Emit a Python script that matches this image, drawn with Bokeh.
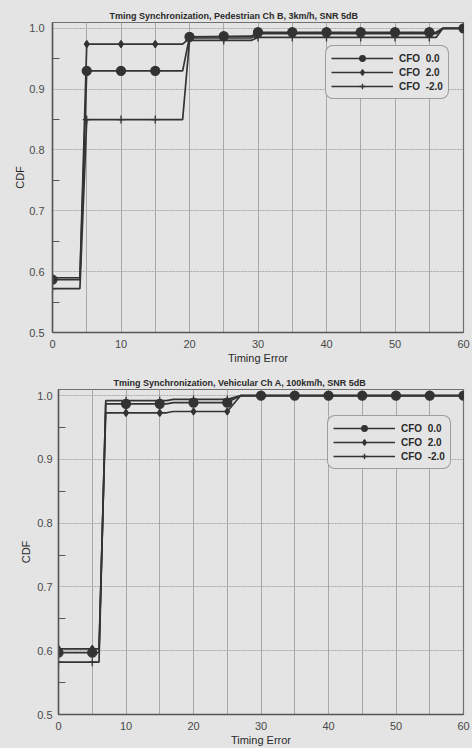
from bokeh.plotting import figure
from bokeh.layouts import column, row
from bokeh.models import FixedTicker, Legend, LegendItem, NumeralTickFormatter, Title
from bokeh.embed import file_html
from bokeh.resources import INLINE

# ---------------- data ----------------
TOP_TITLE = "Tming Synchronization, Pedestrian Ch B, 3km/h, SNR 5dB"
BOT_TITLE = "Tming Synchronization, Vehicular Ch A, 100km/h, SNR 5dB"
X_LABEL = "Timing Error"
Y_LABEL = "CDF"
SERIES = ["CFO  0.0", "CFO  2.0", "CFO  -2.0"]

X_TICKS = [0, 10, 20, 30, 40, 50, 60]
X_GRID = [0, 5, 10, 15, 20, 25, 30, 35, 40, 45, 50, 55, 60]
Y_TICKS = [0.5, 0.6, 0.7, 0.8, 0.9, 1.0]
Y_MINOR = [0.55, 0.65, 0.75, 0.85, 0.95]

MARK_X = [0, 5, 10, 15, 20, 25, 30, 35, 40, 45, 50, 55, 60]

# Pedestrian Ch B, 3 km/h
ped_line_x = [0, 4, 5, 19, 20, 29, 30, 56, 57, 60]
ped_cfo_0 = [0.587, 0.587, 0.930, 0.930, 0.986, 0.987, 0.9935, 0.9935, 1.0, 1.0]
ped_cfo_p2 = [0.590, 0.590, 0.974, 0.974, 0.984, 0.984, 0.991, 0.991, 1.0, 1.0]
ped_cfo_m2 = [0.572, 0.572, 0.850, 0.850, 0.980, 0.980, 0.985, 0.985, 1.0, 1.0]
ped_mark_0 = [0.587, 0.930, 0.930, 0.930, 0.986, 0.987, 0.9935, 0.9935, 0.9935, 0.9935, 0.9935, 0.9935, 1.0]
ped_mark_p2 = [0.590, 0.974, 0.974, 0.974, 0.984, 0.984, 0.991, 0.991, 0.991, 0.991, 0.991, 0.991, 1.0]
ped_mark_m2 = [0.572, 0.850, 0.850, 0.850, 0.980, 0.980, 0.985, 0.985, 0.985, 0.985, 0.985, 0.985, 1.0]

# Vehicular Ch A, 100 km/h
veh_line_x = [0, 6, 7, 16, 17, 25, 27, 60]
veh_cfo_0 = [0.597, 0.597, 0.987, 0.987, 0.989, 0.989, 1.0, 1.0]
veh_cfo_p2 = [0.603, 0.603, 0.973, 0.973, 0.975, 0.975, 1.0, 1.0]
veh_cfo_m2 = [0.582, 0.582, 0.992, 0.992, 0.994, 0.994, 1.0, 1.0]
veh_mark_0 = [0.597, 0.597, 0.987, 0.987, 0.989, 0.989, 1.0, 1.0, 1.0, 1.0, 1.0, 1.0, 1.0]
veh_mark_p2 = [0.603, 0.603, 0.973, 0.973, 0.975, 0.975, 1.0, 1.0, 1.0, 1.0, 1.0, 1.0, 1.0]
veh_mark_m2 = [0.582, 0.582, 0.992, 0.992, 0.994, 0.994, 1.0, 1.0, 1.0, 1.0, 1.0, 1.0, 1.0]

# ---------------- style ----------------
BG = "#e4e4e4"
INK = "#333333"
GRID = "#a8a8a8"
FONT = "Liberation Sans"


def make_chart(title, line_x, lines, marks, height, left, top, bottom, legend_loc,
               title_offset, tick_standoff, label_standoff):
    p = figure(width=472, height=height, x_range=(0, 60), y_range=(0.5, 1.0095),
               output_backend="svg", toolbar_location=None,
               min_border_left=left, min_border_right=9,
               min_border_top=top, min_border_bottom=bottom,
               background_fill_color=BG, border_fill_color=BG)
    p.title = Title(text=title, align="left", offset=title_offset,
                    text_font=FONT, text_font_size="9px", text_font_style="bold",
                    text_color="#2a2a2a", standoff=4)
    p.outline_line_color = "#707070"
    p.outline_line_width = 1.2

    p.xaxis.ticker = FixedTicker(ticks=X_TICKS)
    p.yaxis.ticker = FixedTicker(ticks=Y_TICKS, minor_ticks=Y_MINOR)
    p.yaxis.formatter = NumeralTickFormatter(format="0.0")
    p.xgrid.ticker = FixedTicker(ticks=X_GRID)
    p.ygrid.ticker = FixedTicker(ticks=Y_TICKS)
    p.xgrid.grid_line_color = GRID
    p.ygrid.grid_line_color = GRID
    p.ygrid.grid_line_dash = "2 1"

    for ax in (p.xaxis[0], p.yaxis[0]):
        ax.axis_line_color = "#555555"
        ax.axis_line_width = 1.5
        ax.major_tick_out = 0
        ax.major_tick_in = 0
        ax.minor_tick_out = 0
        ax.major_label_text_font = FONT
        ax.major_label_text_font_size = "11px"
        ax.major_label_text_color = "#4a4a4a"
        ax.axis_label_text_font = FONT
        ax.axis_label_text_font_size = "11px"
        ax.axis_label_text_font_style = "normal"
        ax.axis_label_text_color = "#2a2a2a"
    p.yaxis.minor_tick_in = 7
    p.yaxis.minor_tick_line_color = "#555555"
    p.yaxis.minor_tick_line_width = 1.2
    p.xaxis.minor_tick_in = 0
    p.xaxis.major_label_standoff = 7
    p.yaxis.major_label_standoff = tick_standoff
    p.xaxis.axis_label = X_LABEL
    p.yaxis.axis_label = Y_LABEL
    p.xaxis.axis_label_standoff = 1
    p.yaxis.axis_label_standoff = label_standoff

    items = []
    styles = [("circle", 9), ("diamond", 7), ("cross", 8)]
    for name, ys, my, (mk, sz) in zip(SERIES, lines, marks, styles):
        r1 = p.line(line_x, ys, line_color=INK, line_width=1.7)
        r2 = p.scatter(MARK_X, my, marker=mk, size=sz, line_color=INK,
                       fill_color=INK, line_width=1.3)
        items.append(LegendItem(label=name, renderers=[r1, r2]))

    leg = Legend(items=items, location=legend_loc, orientation="vertical",
                 glyph_width=62, glyph_height=14, label_height=14, spacing=0,
                 padding=5, margin=0, label_standoff=6,
                 label_text_font=FONT, label_text_font_size="10px",
                 label_text_font_style="bold", label_text_color="#2a2a2a",
                 background_fill_color=BG, background_fill_alpha=1.0,
                 border_line_color="#555555", border_line_width=1.3)
    if "border_radius" in Legend.properties():
        leg.border_radius = 8
    p.add_layout(leg)
    return p


p1 = make_chart(TOP_TITLE, ped_line_x, [ped_cfo_0, ped_cfo_p2, ped_cfo_m2],
                [ped_mark_0, ped_mark_p2, ped_mark_m2],
                height=368, left=52, top=22, bottom=36, legend_loc=(273, 233),
                title_offset=57, tick_standoff=8, label_standoff=0)
p2 = make_chart(BOT_TITLE, veh_line_x, [veh_cfo_0, veh_cfo_p2, veh_cfo_m2],
                [veh_mark_0, veh_mark_p2, veh_mark_m2],
                height=380, left=58, top=21, bottom=34, legend_loc=(269, 245),
                title_offset=55, tick_standoff=6, label_standoff=2)

layout = column(row(p1), row(p2), spacing=0)
layout.styles = {"background-color": BG}
open("out.html", "w").write(file_html(layout, INLINE))
